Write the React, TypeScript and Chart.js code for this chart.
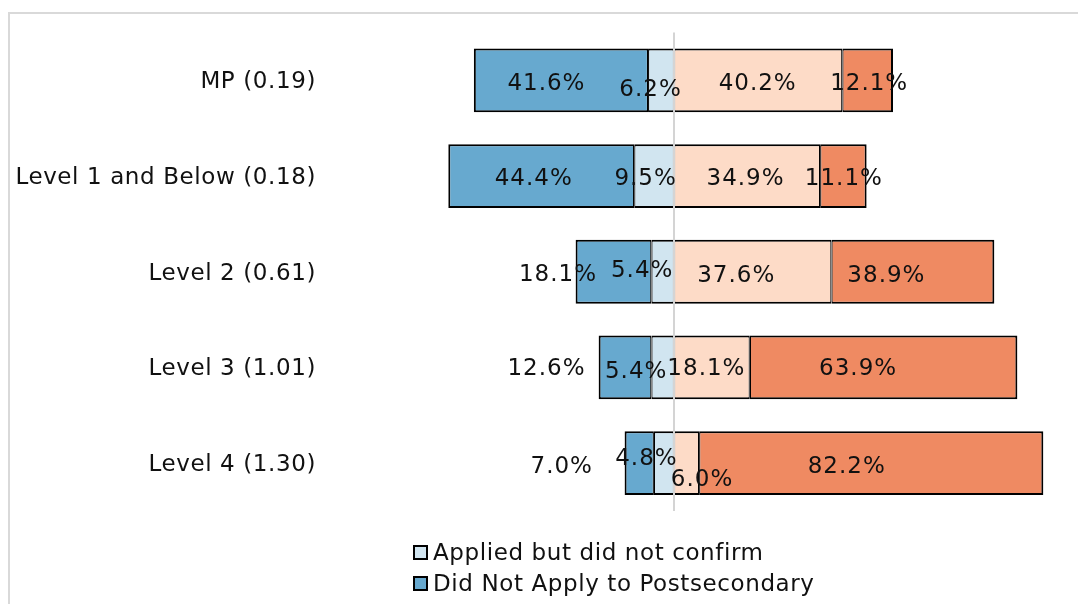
import React, { useEffect, useRef } from "react";
import { Chart, registerables } from "chart.js";

Chart.register(...registerables);

// ---- data ----
const categories = [
  "MP (0.19)",
  "Level 1 and Below (0.18)",
  "Level 2 (0.61)",
  "Level 3 (1.01)",
  "Level 4 (1.30)",
];
const seriesNames = [
  "Applied but did not confirm",
  "Did Not Apply to Postsecondary",
  "Confirmed Two-Year",
  "Confirmed Four-Year",
];
const appliedNotConfirmed = [6.2, 9.5, 5.4, 5.4, 4.8];
const didNotApply = [41.6, 44.4, 18.1, 12.6, 7.0];
const confirmedTwoYear = [40.2, 34.9, 37.6, 18.1, 6.0];
const confirmedFourYear = [12.1, 11.1, 38.9, 63.9, 82.2];
const xRange = [-80, 96];

// ---- styles ----
const COLORS = ["#d1e5f0", "#67a9cf", "#fddbc7", "#ef8a62"];
const FONT = "'DejaVu Sans', Verdana, sans-serif";
const TEXT = "#111111";
// label nudges (px) relative to segment centre: [dx, dy]
const LABEL_NUDGE = [
  [[-11, 8.5], [-9, 1.5], [-21, -2], [-27, 3], [-18, -6]],
  [[-15, 2.5], [-8, 1.5], [-56, 1.5], [-79, 0.5], [-78, 2]],
  [[-1, 2.5], [-2, 1.5], [-17, 3], [-6, 0.5], [15, 15]],
  [[1, 2.5], [0, 1.5], [-27, 3], [-26, 0.5], [-25, 2]],
];

const overlayPlugin = {
  id: "overlay",
  beforeDraw(chart: any) {
    chart.ctx.letterSpacing = "0.6px";
  },
  afterDatasetsDraw(chart: any) {
    const ctx = chart.ctx;
    const area = chart.chartArea;
    const x0 = chart.scales.x.getPixelForValue(0);
    ctx.save();
    ctx.strokeStyle = "#d4d4d4";
    ctx.lineWidth = 2;
    ctx.beginPath();
    ctx.moveTo(x0, area.top);
    ctx.lineTo(x0, area.bottom);
    ctx.stroke();
    ctx.restore();

    ctx.save();
    ctx.font = `23px ${FONT}`;
    ctx.letterSpacing = "1px";
    ctx.fillStyle = TEXT;
    ctx.textAlign = "center";
    ctx.textBaseline = "middle";
    chart.data.datasets.forEach((ds: any, di: number) => {
      const meta = chart.getDatasetMeta(di);
      meta.data.forEach((el: any, i: number) => {
        const c = el.getCenterPoint();
        const [dx, dy] = LABEL_NUDGE[di][i];
        const txt = Math.abs(ds.data[i]).toFixed(1) + "%";
        ctx.fillText(txt, c.x + dx + 0.5, c.y + dy + 1.5);
      });
    });
    ctx.restore();
  },
};

const borderFor = (idx: number) => {
  if (idx === 1) return { top: 2, bottom: 2, left: 2, right: 1.2 };
  if (idx === 3) return { top: 2, bottom: 2, left: 1.2, right: 2 };
  return { top: 2, bottom: 2, left: 1.2, right: 1.2 };
};

export default function App() {
  const canvasRef = useRef<HTMLCanvasElement | null>(null);

  useEffect(() => {
    if (!canvasRef.current) return;
    const values = [
      appliedNotConfirmed.map((v) => -v),
      didNotApply.map((v) => -v),
      confirmedTwoYear,
      confirmedFourYear,
    ];
    const chart = new Chart(canvasRef.current, {
      type: "bar",
      data: {
        labels: categories,
        datasets: values.map((data, i) => ({
          label: seriesNames[i],
          data,
          backgroundColor: COLORS[i],
          borderColor: "#000000",
          borderWidth: borderFor(i),
          borderSkipped: false,
          categoryPercentage: 1,
          barPercentage: 0.667,
        })),
      },
      options: {
        indexAxis: "y",
        animation: false,
        responsive: true,
        maintainAspectRatio: false,
        layout: { padding: { left: 0, top: 32.5, right: 2, bottom: 93 } },
        plugins: {
          legend: { display: false },
          tooltip: { enabled: false },
        },
        scales: {
          x: {
            stacked: true,
            display: false,
            min: xRange[0],
            max: xRange[1],
          },
          y: {
            stacked: true,
            grid: { display: false, drawTicks: false },
            border: { display: false },
            ticks: {
              autoSkip: false,
              padding: 23,
              labelOffset: 2,
              color: TEXT,
              font: { family: FONT, size: 23 },
            },
            afterFit: (scale: any) => {
              scale.width = 339;
              scale.paddingTop = 0;
              scale.paddingBottom = 0;
            },
          },
        },
      } as any,
      plugins: [overlayPlugin],
    });
    return () => chart.destroy();
  }, []);

  return (
    <div
      style={{
        position: "fixed",
        left: 0,
        top: 0,
        width: 1078,
        height: 604,
        overflow: "hidden",
        background: "#ffffff",
      }}
    >
      <div
        style={{
          position: "absolute",
          left: 8,
          top: 12,
          width: 2000,
          height: 2000,
          borderLeft: "2px solid #d9d9d9",
          borderTop: "2px solid #d9d9d9",
        }}
      />
      <div style={{ position: "absolute", left: 0, top: 0, width: 1078, height: 604 }}>
        <canvas ref={canvasRef} />
      </div>
      <div
        style={{
          position: "absolute",
          left: 413,
          top: 536,
          height: 62,
          overflow: "hidden",
          fontFamily: FONT,
          fontSize: 23,
          letterSpacing: "0.6px",
          color: TEXT,
        }}
      >
        {seriesNames.map((name, i) => (
          <div
            key={name}
            style={{ display: "flex", alignItems: "center", height: 31, whiteSpace: "nowrap" }}
          >
            <span
              style={{
                display: "inline-block",
                boxSizing: "border-box",
                width: 15,
                height: 15,
                border: "2px solid #000",
                background: COLORS[i],
                marginRight: 5,
                marginTop: 2,
                flex: "none",
              }}
            />
            <span>{name}</span>
          </div>
        ))}
      </div>
    </div>
  );
}
